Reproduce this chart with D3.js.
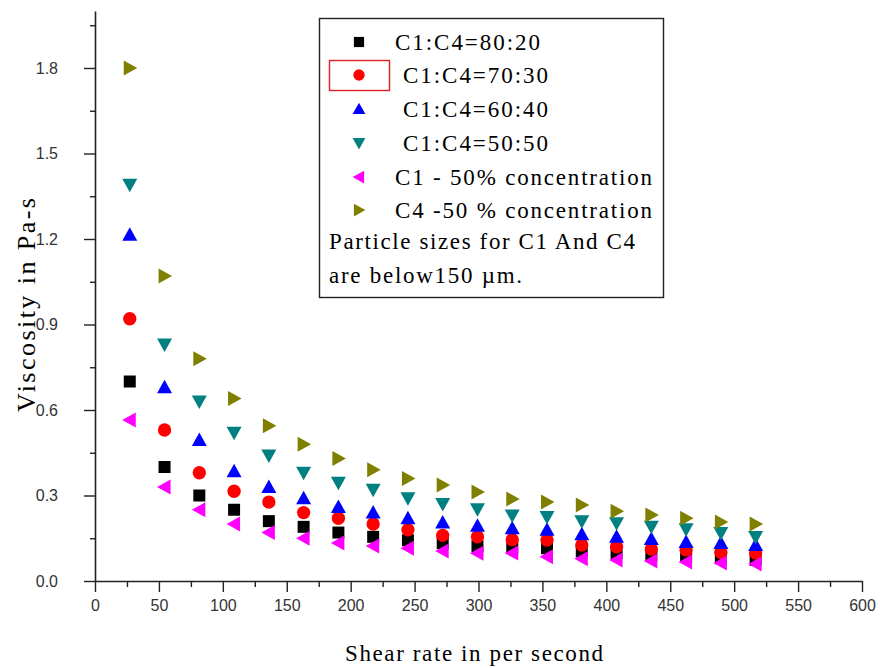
<!doctype html>
<html>
<head>
  <meta charset="utf-8">
  <title>Viscosity vs shear rate</title>
  <style>
    body { margin: 0; background: #fff; }
    svg { display: block; }
  </style>
</head>
<body>
  <div id="vis"></div>

  <script src="https://cdn.jsdelivr.net/npm/d3@7/dist/d3.min.js"></script>
  <script>

    // shear rate (per second)
    var shearRate = [27.2, 54.4, 81.6, 108.8, 136, 163.2, 190.4, 217.6, 244.8, 272,
                     299.2, 326.4, 353.6, 380.8, 408, 435.2, 462.4, 489.6, 516.8];

    // viscosity (Pa-s) for each mix
    var mix8020 = [0.70, 0.40, 0.30, 0.25, 0.21, 0.19, 0.17, 0.155, 0.143, 0.133,
                   0.122, 0.115, 0.115, 0.104, 0.098, 0.09, 0.085, 0.08, 0.074];
    var mix7030 = [0.92, 0.53, 0.38, 0.315, 0.277, 0.24, 0.22, 0.20, 0.18, 0.16,
                   0.155, 0.145, 0.144, 0.126, 0.12, 0.112, 0.109, 0.10, 0.098];
    var mix6040 = [1.215, 0.68, 0.495, 0.385, 0.33, 0.29, 0.26, 0.24, 0.22, 0.205,
                   0.194, 0.185, 0.18, 0.164, 0.155, 0.147, 0.137, 0.133, 0.126];
    var mix5050 = [1.39, 0.83, 0.63, 0.52, 0.44, 0.38, 0.345, 0.32, 0.29, 0.27,
                   0.252, 0.23, 0.225, 0.21, 0.203, 0.19, 0.182, 0.168, 0.154];
    var c1Only  = [0.565, 0.33, 0.25, 0.20, 0.17, 0.15, 0.133, 0.123, 0.115, 0.105,
                   0.097, 0.098, 0.085, 0.078, 0.074, 0.07, 0.067, 0.063, 0.06];
    var c4Only  = [1.80, 1.07, 0.78, 0.64, 0.545, 0.48, 0.43, 0.39, 0.36, 0.337,
                   0.312, 0.288, 0.277, 0.267, 0.245, 0.232, 0.22, 0.207, 0.20];

    var seriesNames = ["C1:C4=80:20", "C1:C4=70:30", "C1:C4=60:40", "C1:C4=50:50",
                       "C1 - 50% concentration", "C4 -50 % concentration"];
    var seriesValues = [mix8020, mix7030, mix6040, mix5050, c1Only, c4Only];
    var seriesColors = ["#000000", "#ff0000", "#0000ff", "#008080", "#ff00ff", "#808000"];
    var seriesShapes = ["square", "circle", "up", "down", "left", "right"];

    var noteLines = ["Particle sizes for C1 And C4", "are below150 \u00b5m."];

    var w = 880, h = 668;
    var plotLeft = 95, plotRight = 862, plotTop = 11, plotBottom = 581;

    var svg = d3.select("#vis").append("svg")
        .attr("width", w)
        .attr("height", h);

    var x = d3.scaleLinear().domain([0, 600]).range([plotLeft, plotRight]);
    var y = d3.scaleLinear().domain([0, 2.0]).range([plotBottom, plotTop]);

    // marker path for a shape centered at 0,0
    function marker(shape) {
      switch (shape) {
        case "square": return "M-6,-6H6V6H-6Z";
        case "circle": return d3.symbol(d3.symbolCircle, 140)();
        case "up":     return "M0,-7.5L7.5,6H-7.5Z";
        case "down":   return "M0,7.5L7.5,-6H-7.5Z";
        case "left":   return "M-7.5,0L6,-7.5V7.5Z";
        case "right":  return "M7.5,0L-6,-7.5V7.5Z";
      }
    }

    // axes
    var xAxis = d3.axisBottom(x)
        .tickValues(d3.range(0, 601, 25))
        .tickSizeOuter(0)
        .tickFormat(function(d){ return d % 50 === 0 ? d : ""; });

    var gx = svg.append("g")
        .attr("transform", "translate(0," + plotBottom + ")")
        .call(xAxis);
    gx.selectAll(".tick line")
        .attr("y2", function(d){ return d % 50 === 0 ? 11 : 6; });
    gx.selectAll(".tick text")
        .attr("y", 19);

    var yAxis = d3.axisLeft(y)
        .tickValues(d3.range(0, 14).map(function(i){ return i * 0.15; }))
        .tickSizeOuter(0)
        .tickFormat(function(d){
          var k = Math.round(d / 0.15);
          return k % 2 === 0 ? d3.format(".1f")(d) : "";
        });

    var gy = svg.append("g")
        .attr("transform", "translate(" + plotLeft + ",0)")
        .call(yAxis);
    gy.selectAll(".tick line")
        .attr("x2", function(d){ return Math.round(d / 0.15) % 2 === 0 ? -11 : -5; });
    gy.selectAll(".tick text")
        .attr("x", -37);

    svg.selectAll(".domain")
        .attr("stroke", "#222")
        .attr("stroke-width", 1.6);
    svg.selectAll(".tick line")
        .attr("stroke", "#222")
        .attr("stroke-width", 1.4);
    svg.selectAll(".tick text")
        .attr("font-family", "'Liberation Sans', Arial, sans-serif")
        .attr("font-size", 16)
        .attr("fill", "#333");

    // axis titles
    svg.append("text")
        .attr("x", 474)
        .attr("y", 661)
        .attr("text-anchor", "middle")
        .attr("font-family", "'Liberation Serif', 'Times New Roman', serif")
        .attr("font-size", 23)
        .attr("textLength", 258)
        .attr("lengthAdjust", "spacing")
        .text("Shear rate in per second");

    svg.append("text")
        .attr("transform", "translate(35,305) rotate(-90)")
        .attr("text-anchor", "middle")
        .attr("font-family", "'Liberation Serif', 'Times New Roman', serif")
        .attr("font-size", 26)
        .attr("textLength", 214)
        .attr("lengthAdjust", "spacing")
        .text("Viscosity in Pa-s");

    // data points
    seriesValues.forEach(function(vals, s){
      svg.append("g")
        .selectAll("path")
        .data(vals)
        .enter()
        .append("path")
        .attr("d", marker(seriesShapes[s]))
        .attr("transform", function(d, i){
          return "translate(" + x(shearRate[i]) + "," + y(d) + ")";
        })
        .attr("fill", seriesColors[s]);
    });

    // legend
    var legend = svg.append("g");
    legend.append("rect")
        .attr("x", 319.5).attr("y", 18.5)
        .attr("width", 344).attr("height", 279)
        .attr("fill", "#fff")
        .attr("stroke", "#222")
        .attr("stroke-width", 1.4);

    var rowY = [42, 75, 109, 143, 177, 210];
    var textX = [395, 403, 403, 403, 395, 395];
    var textW = [145, 145, 145, 145, 257, 257];

    legend.append("rect")
        .attr("x", 329.5).attr("y", 60.5)
        .attr("width", 60).attr("height", 30)
        .attr("fill", "none")
        .attr("stroke", "#e02020")
        .attr("stroke-width", 1.4);

    seriesNames.forEach(function(name, s){
      legend.append("path")
          .attr("d", marker(seriesShapes[s]))
          .attr("transform", "translate(359," + rowY[s] + ") scale(0.85)")
          .attr("fill", seriesColors[s]);
      legend.append("text")
          .attr("x", textX[s])
          .attr("y", rowY[s] + 8)
          .attr("font-family", "'Liberation Serif', 'Times New Roman', serif")
          .attr("font-size", 23)
          .attr("textLength", textW[s])
          .attr("lengthAdjust", "spacing")
          .text(name);
    });

    legend.selectAll("text.note")
        .data(noteLines)
        .enter()
        .append("text")
        .attr("class", "note")
        .attr("x", 329)
        .attr("y", function(d, i){ return 249 + i * 34; })
        .attr("font-family", "'Liberation Serif', 'Times New Roman', serif")
        .attr("font-size", 23)
        .attr("textLength", function(d, i){ return i === 0 ? 306 : 193; })
        .attr("lengthAdjust", "spacing")
        .text(function(d){ return d; });

  </script>
</body>
</html>
